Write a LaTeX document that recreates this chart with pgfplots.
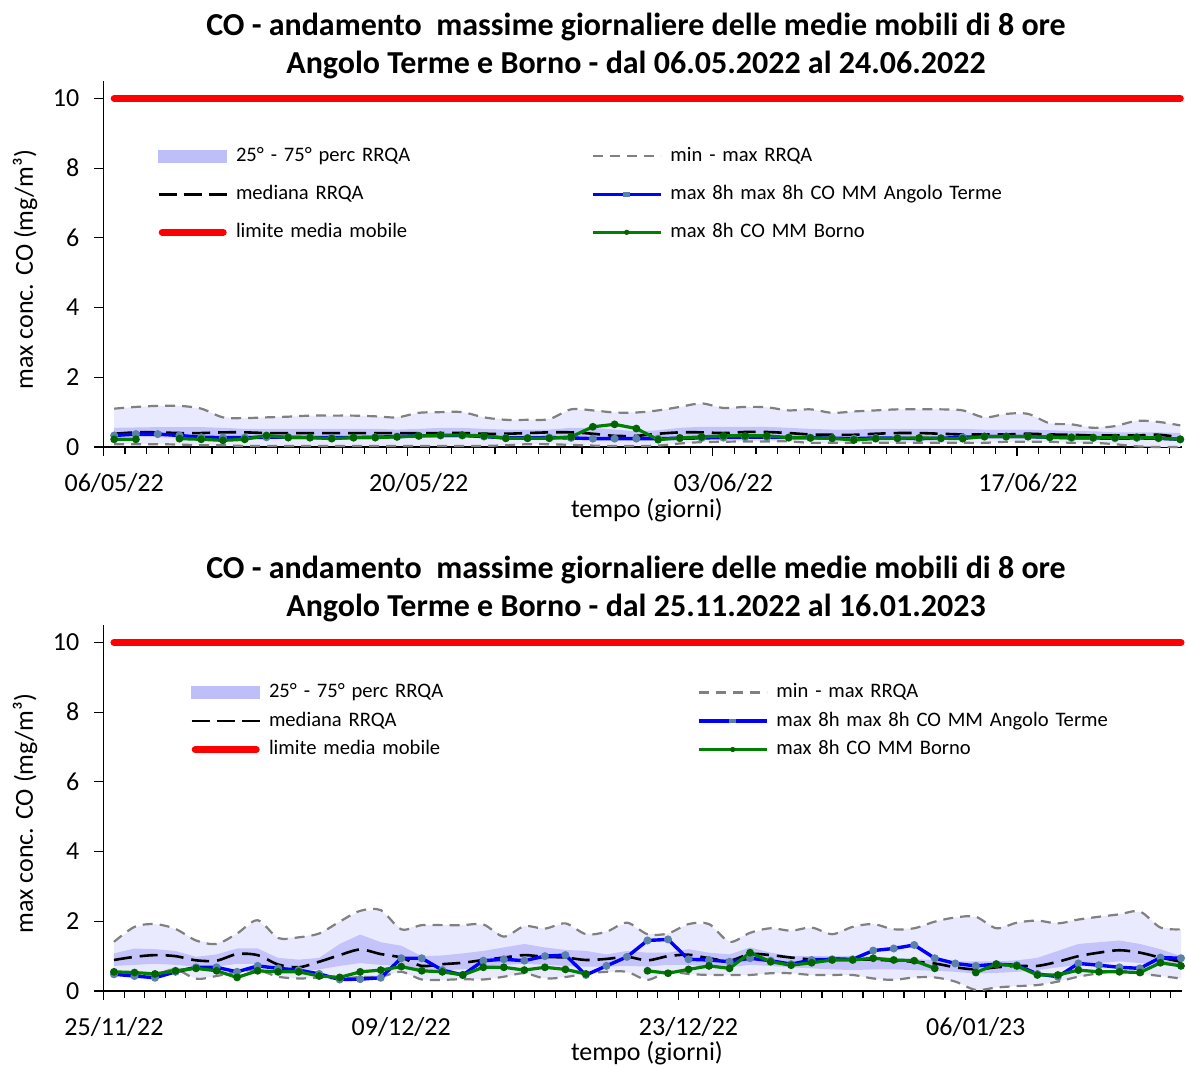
\documentclass[border=0pt]{standalone}
\usepackage{fontspec}
\setmainfont{Carlito}
\usepackage{pgfplots}
\pgfplotsset{compat=1.18}
\usepackage{pgfplotstable}

\definecolor{bandc}{RGB}{196,196,250}
\definecolor{rangec}{RGB}{234,234,255}
\definecolor{legband}{RGB}{190,190,248}
\definecolor{grayd}{RGB}{128,128,128}
\definecolor{blueL}{RGB}{0,0,255}
\definecolor{greenL}{RGB}{0,128,0}
\definecolor{mkblue}{RGB}{90,130,170}
\definecolor{mkgreen}{RGB}{0,100,0}

\pgfplotstableread{
i  max  min  med  blue green
0  1.10 0.08 0.38 0.33 0.22
1  1.15 0.08 0.42 0.37 0.22
2  1.18 0.08 0.42 0.37 nan
3  1.18 0.07 0.40 0.33 0.24
4  1.10 0.05 0.40 0.28 0.22
5  0.85 0.05 0.42 0.27 0.19
6  0.83 0.03 0.42 0.27 0.22
7  0.85 0.03 0.40 0.28 0.33
8  0.87 0.03 0.40 0.28 0.27
9  0.90 0.03 0.40 0.27 0.27
10 0.90 0.03 0.40 0.27 0.24
11 0.90 0.03 0.40 0.27 0.27
12 0.88 0.03 0.40 0.28 0.27
13 0.85 0.03 0.40 0.30 0.29
14 0.98 0.03 0.40 0.32 0.32
15 1.00 0.03 0.40 0.33 0.34
16 1.00 0.03 0.40 0.33 0.34
17 0.85 0.03 0.38 0.30 0.32
18 0.78 0.05 0.38 0.26 0.25
19 0.78 0.08 0.40 0.26 0.25
20 0.80 0.08 0.42 0.27 0.25
21 1.08 0.06 0.42 0.26 0.29
22 1.05 0.04 0.38 0.24 0.58
23 0.99 0.03 0.32 0.24 0.65
24 0.99 0.03 0.32 0.24 0.53
25 1.05 0.04 0.38 0.24 0.21
26 1.15 0.10 0.42 0.25 0.26
27 1.25 0.14 0.42 0.26 0.29
28 1.12 0.15 0.40 0.27 0.32
29 1.15 0.16 0.43 0.28 0.32
30 1.14 0.16 0.43 0.28 0.32
31 1.05 0.16 0.40 0.27 0.27
32 1.08 0.12 0.36 0.27 0.26
33 0.98 0.12 0.35 0.25 0.25
34 1.02 0.12 0.35 0.24 0.20
35 1.05 0.12 0.38 0.26 0.24
36 1.08 0.12 0.40 0.25 0.25
37 1.08 0.12 0.40 0.24 0.26
38 1.08 0.12 0.38 0.25 0.25
39 1.05 0.12 0.36 0.28 0.24
40 0.85 0.12 0.36 0.30 0.30
41 0.95 0.15 0.36 0.30 0.30
42 0.95 0.15 0.38 0.30 0.30
43 0.68 0.15 0.36 0.28 0.28
44 0.65 0.12 0.35 0.26 0.28
45 0.55 0.12 0.33 0.26 0.27
46 0.60 0.08 0.33 0.25 0.27
47 0.75 0.02 0.33 0.26 0.28
48 0.72 0.00 0.35 0.25 0.26
49 0.62 0.00 0.28 0.22 0.22
}\topdata

\pgfplotstableread{
i  max  min  med  blue green
0  1.41 0.55 0.89 0.48 0.55
1  1.84 0.50 0.98 0.43 0.53
2  1.92 0.48 1.03 0.38 0.49
3  1.78 0.62 1.00 0.55 0.58
4  1.45 0.35 0.88 0.68 0.65
5  1.35 0.43 0.87 0.68 0.58
6  1.65 0.55 1.06 0.55 0.39
7  2.03 0.60 1.03 0.72 0.58
8  1.52 0.41 0.76 0.65 0.55
9  1.54 0.36 0.68 0.60 0.55
10 1.65 0.38 0.84 0.49 0.43
11 1.99 0.36 1.03 0.33 0.39
12 2.30 0.40 1.19 0.34 0.55
13 2.32 0.41 1.06 0.38 0.60
14 1.77 0.55 0.96 0.94 0.70
15 1.89 0.33 0.72 0.94 0.58
16 1.89 0.32 0.77 0.60 0.55
17 1.89 0.34 0.81 0.46 0.46
18 1.91 0.33 0.89 0.87 0.68
19 1.56 0.41 0.96 0.91 0.68
20 1.86 0.51 1.03 0.87 0.60
21 1.79 0.36 0.98 1.00 0.68
22 1.94 0.40 0.96 1.03 0.62
23 1.63 0.50 0.89 0.46 0.49
24 1.70 0.55 0.92 0.72 nan
25 1.96 0.55 0.98 0.98 nan
26 1.63 0.32 0.88 1.45 0.58
27 1.65 0.55 1.00 1.48 0.51
28 1.92 0.49 1.04 0.91 0.62
29 1.92 0.46 0.94 0.89 0.72
30 1.41 0.46 0.87 0.84 0.65
31 1.67 0.46 1.06 0.94 1.10
32 1.80 0.51 1.03 0.87 0.84
33 1.73 0.51 0.96 0.77 0.74
34 1.82 0.46 0.91 0.89 0.81
35 1.63 0.46 0.93 0.91 0.89
36 1.84 0.46 0.91 0.91 0.89
37 1.92 0.36 0.90 1.16 0.94
38 1.77 0.32 0.87 1.22 0.89
39 1.80 0.39 0.84 1.32 0.87
40 1.99 0.39 0.79 0.94 0.65
41 2.11 0.27 0.68 0.79 nan
42 2.13 0.03 0.62 0.72 0.53
43 1.80 0.10 0.68 0.77 0.77
44 1.96 0.14 0.72 0.74 0.72
45 2.02 0.17 0.72 0.49 0.46
46 1.94 0.27 0.84 0.41 0.46
47 2.05 0.41 1.00 0.79 0.60
48 2.13 0.51 1.10 0.74 0.55
49 2.20 0.58 1.17 0.68 0.55
50 2.28 0.50 1.10 0.65 0.53
51 1.82 0.43 0.96 0.96 0.81
52 1.77 0.36 0.84 0.94 0.72
}\botdata

\pgfplotsset{
  costyle/.style={
    scale only axis, width=539.35pt, height=183pt,
    ymin=0, ymax=10.5, ytick={0,2,...,10},
    axis x line*=bottom, axis y line*=left,
    axis line style={line width=0.75pt,-},
    tick align=outside, major tick length=4.5pt, minor tick length=3.3pt,
    tick style={black, line width=0.6pt},
    ticklabel style={font=\fontsize{13pt}{15pt}\selectfont},
    yticklabel style={xshift=-4pt},
    /pgf/number format/assume math mode=true,
    label style={font=\fontsize{13pt}{15pt}\selectfont},
    ylabel={max conc. CO (mg/m³)},
    xlabel={tempo (giorni)},
    ylabel style={at={(axis description cs:-0.0726,0.485)}, anchor=center},
    clip=false,
    unbounded coords=jump,
    legend columns=2,
    legend cell align=left,
    legend style={draw=none, fill=none, inner sep=0pt, anchor=north west,
      font=\fontsize{10.3pt}{12pt}\selectfont,
      column sep=4pt,
      nodes={inner sep=0pt, text height=7.5pt, text depth=2.5pt, align=left}},
  },
  rangefill/.style={fill=rangec, draw=none, forget plot},
  bandfill/.style={fill=bandc, draw=none, forget plot},
  mmline/.style={grayd, line width=1.1pt, dash pattern=on 5pt off 3.5pt, smooth, forget plot},
  medline/.style={black, line width=1.3pt, dash pattern=on 9pt off 4pt, smooth, forget plot},
  bline/.style={blueL, line width=1.7pt, mark=*, mark size=1.1pt, mark options={draw=mkblue, fill=mkblue, solid}, forget plot},
  gline/.style={greenL, line width=1.6pt, mark=*, mark size=1.1pt, mark options={draw=mkgreen, fill=mkgreen, solid}, forget plot},
  redline/.style={red, line width=3.5pt, line cap=round, forget plot},
}

\newcommand{\legendimages}{%
  \addlegendimage{legend image code/.code={\fill[legband] (0pt,-3pt) rectangle (34pt,3pt);}}
  \addlegendentry{25° - 75° perc RRQA}
  \addlegendimage{legend image code/.code={\draw[grayd, line width=1.1pt, dash pattern=on 5pt off 3.5pt] (0pt,0pt) -- (34pt,0pt);}}
  \addlegendentry{min - max RRQA}
  \addlegendimage{legend image code/.code={\draw[black, line width=1.3pt, dash pattern=on 9pt off 3.5pt] (0pt,0pt) -- (34pt,0pt);}}
  \addlegendentry{mediana RRQA}
  \addlegendimage{legend image code/.code={\draw[blueL, line width=1.7pt] (0pt,0pt) -- (34pt,0pt); \fill[mkblue] (15.5pt,-0.85pt) rectangle (18.5pt,0.85pt);}}
  \addlegendentry{max 8h max 8h CO MM Angolo Terme}
  \addlegendimage{legend image code/.code={\draw[red, line width=3.5pt, line cap=round] (1.75pt,0pt) -- (32.25pt,0pt);}}
  \addlegendentry{limite media mobile}
  \addlegendimage{legend image code/.code={\draw[greenL, line width=1.6pt] (0pt,0pt) -- (34pt,0pt); \fill[mkgreen] (17pt,0pt) circle (1.1pt);}}
  \addlegendentry{max 8h CO MM Borno}
}

\begin{document}
\begin{tikzpicture}
\useasboundingbox (0,0) rectangle (593pt,533pt);

\node[font=\bfseries\fontsize{16pt}{18pt}\selectfont] at (318pt,519.6pt) {CO - andamento\ \ massime giornaliere delle medie mobili di 8 ore};
\node[font=\bfseries\fontsize{16pt}{18pt}\selectfont] at (318pt,500.6pt) {Angolo Terme e Borno - dal 06.05.2022 al 24.06.2022};
\node[font=\bfseries\fontsize{16pt}{18pt}\selectfont] at (318pt,248pt) {CO - andamento\ \ massime giornaliere delle medie mobili di 8 ore};
\node[font=\bfseries\fontsize{16pt}{18pt}\selectfont] at (318pt,229pt) {Angolo Terme e Borno - dal 25.11.2022 al 16.01.2023};

% ---------------- top chart
\begin{axis}[costyle, at={(51.65pt,309.5pt)}, anchor=south west,
  xmin=-0.5, xmax=49.08,
  xtick={-0.5,13.5,27.5,41.5},
  xticklabels={06/05/22,20/05/22,03/06/22,17/06/22},
  xticklabel style={xshift=5.44pt, yshift=-5pt},
  minor xtick={0.5,1.5,...,48.5},
  xlabel style={at={(axis description cs:0.504,-0.172)}, anchor=center},
  legend style={at={(axis description cs:0.0498,0.8226)}, row sep=9pt,
    nodes={text width=173.5pt}},
]
\legendimages
% min-max range (max forward, min backward)
\addplot[rangefill] coordinates {(0,1.10)(1,1.15)(2,1.18)(3,1.18)(4,1.10)(5,0.85)(6,0.83)(7,0.85)(8,0.87)(9,0.90)(10,0.90)(11,0.90)(12,0.88)(13,0.85)(14,0.98)(15,1.00)(16,1.00)(17,0.85)(18,0.78)(19,0.78)(20,0.80)(21,1.08)(22,1.05)(23,0.99)(24,0.99)(25,1.05)(26,1.15)(27,1.25)(28,1.12)(29,1.15)(30,1.14)(31,1.05)(32,1.08)(33,0.98)(34,1.02)(35,1.05)(36,1.08)(37,1.08)(38,1.08)(39,1.05)(40,0.85)(41,0.95)(42,0.95)(43,0.68)(44,0.65)(45,0.55)(46,0.60)(47,0.75)(48,0.72)(49,0.62)
(49,0.00)(48,0.00)(47,0.02)(46,0.08)(45,0.12)(44,0.12)(43,0.15)(42,0.15)(41,0.15)(40,0.12)(39,0.12)(38,0.12)(37,0.12)(36,0.12)(35,0.12)(34,0.12)(33,0.12)(32,0.12)(31,0.16)(30,0.16)(29,0.16)(28,0.15)(27,0.14)(26,0.10)(25,0.04)(24,0.03)(23,0.03)(22,0.04)(21,0.06)(20,0.08)(19,0.08)(18,0.05)(17,0.03)(16,0.03)(15,0.03)(14,0.03)(13,0.03)(12,0.03)(11,0.03)(10,0.03)(9,0.03)(8,0.03)(7,0.03)(6,0.03)(5,0.05)(4,0.05)(3,0.07)(2,0.08)(1,0.08)(0,0.08)};
% 25-75 percentile band (p75 forward, p25 backward)
\addplot[bandfill] coordinates {(0,0.55)(1,0.56)(2,0.57)(3,0.57)(4,0.57)(5,0.55)(6,0.52)(7,0.52)(8,0.52)(9,0.52)(10,0.52)(11,0.52)(12,0.52)(13,0.50)(14,0.52)(15,0.55)(16,0.55)(17,0.52)(18,0.50)(19,0.50)(20,0.50)(21,0.55)(22,0.55)(23,0.50)(24,0.45)(25,0.48)(26,0.55)(27,0.58)(28,0.58)(29,0.58)(30,0.58)(31,0.55)(32,0.52)(33,0.50)(34,0.50)(35,0.52)(36,0.52)(37,0.52)(38,0.52)(39,0.52)(40,0.50)(41,0.50)(42,0.50)(43,0.48)(44,0.46)(45,0.45)(46,0.42)(47,0.42)(48,0.42)(49,0.40)
(49,0.18)(48,0.20)(47,0.20)(46,0.20)(45,0.22)(44,0.22)(43,0.23)(42,0.24)(41,0.24)(40,0.24)(39,0.25)(38,0.25)(37,0.25)(36,0.25)(35,0.25)(34,0.24)(33,0.24)(32,0.25)(31,0.26)(30,0.26)(29,0.26)(28,0.25)(27,0.23)(26,0.21)(25,0.20)(24,0.20)(23,0.21)(22,0.22)(21,0.24)(20,0.25)(19,0.24)(18,0.24)(17,0.25)(16,0.27)(15,0.27)(14,0.26)(13,0.25)(12,0.25)(11,0.25)(10,0.25)(9,0.25)(8,0.25)(7,0.25)(6,0.25)(5,0.25)(4,0.26)(3,0.27)(2,0.28)(1,0.28)(0,0.28)};
\addplot[mmline] table[x=i,y=max]{\topdata};
\addplot[mmline] table[x=i,y=min]{\topdata};
\addplot[medline] table[x=i,y=med]{\topdata};
\addplot[bline] table[x=i,y=blue]{\topdata};
\addplot[gline] table[x=i,y=green]{\topdata};
\addplot[redline] coordinates {(0,10) (49,10)};
\end{axis}

% ---------------- bottom chart
\begin{axis}[costyle, at={(51.65pt,37.5pt)}, anchor=south west,
  xmin=-0.52, xmax=52.05,
  xtick={-0.5,13.5,27.5,41.5},
  xticklabels={25/11/22,09/12/22,23/12/22,06/01/23},
  xticklabel style={xshift=5.14pt, yshift=-5pt},
  minor xtick={0.5,1.5,...,51.5},
  xlabel style={at={(axis description cs:0.504,-0.169)}, anchor=center},
  legend style={at={(axis description cs:0.0804,0.844)}, row sep=4.25pt,
    nodes={text width=210pt}},
]
\legendimages
\addplot[rangefill] coordinates {(0,1.41)(1,1.84)(2,1.92)(3,1.78)(4,1.45)(5,1.35)(6,1.65)(7,2.03)(8,1.52)(9,1.54)(10,1.65)(11,1.99)(12,2.30)(13,2.32)(14,1.77)(15,1.89)(16,1.89)(17,1.89)(18,1.91)(19,1.56)(20,1.86)(21,1.79)(22,1.94)(23,1.63)(24,1.70)(25,1.96)(26,1.63)(27,1.65)(28,1.92)(29,1.92)(30,1.41)(31,1.67)(32,1.80)(33,1.73)(34,1.82)(35,1.63)(36,1.84)(37,1.92)(38,1.77)(39,1.80)(40,1.99)(41,2.11)(42,2.13)(43,1.80)(44,1.96)(45,2.02)(46,1.94)(47,2.05)(48,2.13)(49,2.20)(50,2.28)(51,1.82)(52,1.77)
(52,0.36)(51,0.43)(50,0.50)(49,0.58)(48,0.51)(47,0.41)(46,0.27)(45,0.17)(44,0.14)(43,0.10)(42,0.03)(41,0.27)(40,0.39)(39,0.39)(38,0.32)(37,0.36)(36,0.46)(35,0.46)(34,0.46)(33,0.51)(32,0.51)(31,0.46)(30,0.46)(29,0.46)(28,0.49)(27,0.55)(26,0.32)(25,0.55)(24,0.55)(23,0.50)(22,0.40)(21,0.36)(20,0.51)(19,0.41)(18,0.33)(17,0.34)(16,0.32)(15,0.33)(14,0.55)(13,0.41)(12,0.40)(11,0.36)(10,0.38)(9,0.36)(8,0.41)(7,0.60)(6,0.55)(5,0.43)(4,0.35)(3,0.62)(2,0.48)(1,0.50)(0,0.55)};
\addplot[bandfill] coordinates {(0,1.08)(1,1.22)(2,1.20)(3,1.15)(4,0.98)(5,1.05)(6,1.22)(7,1.22)(8,0.95)(9,0.90)(10,0.95)(11,1.35)(12,1.62)(13,1.40)(14,1.30)(15,1.00)(16,1.02)(17,1.08)(18,1.15)(19,1.25)(20,1.35)(21,1.25)(22,1.18)(23,1.15)(24,1.05)(25,1.15)(26,1.10)(27,1.10)(28,1.20)(29,1.10)(30,1.05)(31,1.25)(32,1.10)(33,1.00)(34,1.00)(35,1.00)(36,1.00)(37,0.98)(38,0.95)(39,0.92)(40,0.88)(41,0.85)(42,0.85)(43,0.85)(44,0.88)(45,0.95)(46,1.15)(47,1.35)(48,1.40)(49,1.45)(50,1.35)(51,1.20)(52,1.00)
(52,0.70)(51,0.75)(50,0.80)(49,0.85)(48,0.80)(47,0.75)(46,0.68)(45,0.60)(44,0.55)(43,0.52)(42,0.50)(41,0.55)(40,0.58)(39,0.60)(38,0.62)(37,0.62)(36,0.60)(35,0.62)(34,0.65)(33,0.68)(32,0.72)(31,0.75)(30,0.68)(29,0.70)(28,0.75)(27,0.75)(26,0.70)(25,0.72)(24,0.70)(23,0.70)(22,0.72)(21,0.75)(20,0.78)(19,0.75)(18,0.70)(17,0.62)(16,0.60)(15,0.60)(14,0.72)(13,0.75)(12,0.80)(11,0.72)(10,0.62)(9,0.55)(8,0.60)(7,0.78)(6,0.78)(5,0.70)(4,0.70)(3,0.75)(2,0.78)(1,0.75)(0,0.72)};
\addplot[mmline] table[x=i,y=max]{\botdata};
\addplot[mmline] table[x=i,y=min]{\botdata};
\addplot[medline] table[x=i,y=med]{\botdata};
\addplot[bline] table[x=i,y=blue]{\botdata};
\addplot[gline] table[x=i,y=green]{\botdata};
\addplot[redline] coordinates {(0,10) (52,10)};
\end{axis}
\end{tikzpicture}
\end{document}
